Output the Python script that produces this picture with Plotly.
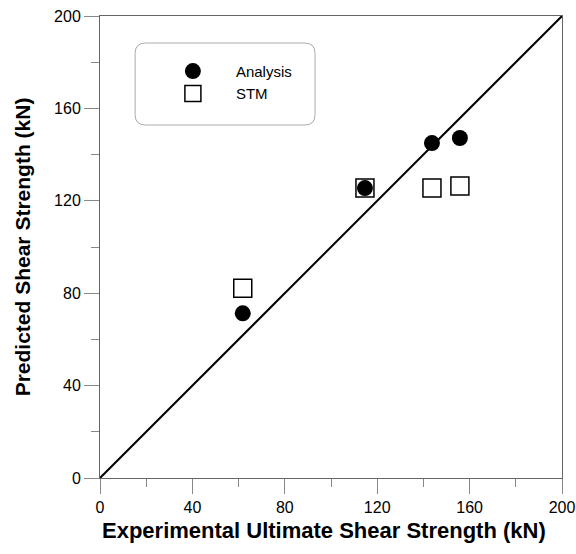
import plotly.graph_objects as go

exp_analysis = [61.8, 114.7, 143.7, 155.8]
pred_analysis = [71.3, 125.5, 145.0, 147.2]
exp_stm = [61.8, 114.7, 143.7, 155.8]
pred_stm = [82.1, 125.5, 125.5, 126.4]
line_x = [0, 200]
line_y = [0, 200]
tick_vals = [0, 40, 80, 120, 160, 200]

fig = go.Figure()
fig.add_trace(go.Scatter(x=line_x, y=line_y, mode="lines",
                         line=dict(color="black", width=2), showlegend=False))
fig.add_trace(go.Scatter(x=exp_analysis, y=pred_analysis, mode="markers", name="Analysis",
                         marker=dict(symbol="circle", size=16, color="black")))
fig.add_trace(go.Scatter(x=exp_stm, y=pred_stm, mode="markers", name="STM",
                         marker=dict(symbol="square-open", size=18, color="black",
                                     line=dict(width=1.5))))

# rounded legend frame
x0, x1, y0, y1, r = 15.2, 93.1, 152.8, 188.3, 4.5
path = (f"M {x0+r},{y1} L {x1-r},{y1} Q {x1},{y1} {x1},{y1-r} L {x1},{y0+r} "
        f"Q {x1},{y0} {x1-r},{y0} L {x0+r},{y0} Q {x0},{y0} {x0},{y0+r} "
        f"L {x0},{y1-r} Q {x0},{y1} {x0+r},{y1} Z")
fig.add_shape(type="path", path=path, xref="x", yref="y",
              line=dict(color="#aaaaaa", width=1), fillcolor="rgba(0,0,0,0)")

axis_common = dict(
    range=[0, 200], tickvals=tick_vals, showline=True, linecolor="#666666", linewidth=1,
    mirror=True, ticks="outside", ticklen=15, tickcolor="#888888", tickwidth=1,
    minor=dict(dtick=20, ticks="outside", ticklen=8, tickcolor="#888888", tickwidth=1),
    showgrid=False, zeroline=False, automargin=False,
    tickfont=dict(family="Liberation Sans, Arial", size=16, color="black"),
)
fig.update_xaxes(**axis_common)
fig.update_yaxes(**axis_common,
                 title=dict(text="<b>Predicted Shear Strength (kN)</b>",
                            font=dict(family="Liberation Sans, Arial", size=21, color="black"),
                            standoff=17))

fig.add_annotation(text="<b>Experimental Ultimate Shear Strength (kN)</b>",
                   xref="paper", yref="paper", x=0.485, y=-0.1126,
                   xanchor="center", yanchor="middle", showarrow=False,
                   font=dict(family="Liberation Sans, Arial", size=22, color="black"))

fig.update_layout(
    width=576, height=554,
    margin=dict(l=100, r=14, t=16, b=76),
    plot_bgcolor="white", paper_bgcolor="white",
    legend=dict(x=0.108, y=0.916, xanchor="left", yanchor="top",
                bgcolor="rgba(0,0,0,0)", borderwidth=0, itemwidth=76,
                font=dict(family="Liberation Sans, Arial", size=15, color="black")),
)

fig.write_html("out.html")
